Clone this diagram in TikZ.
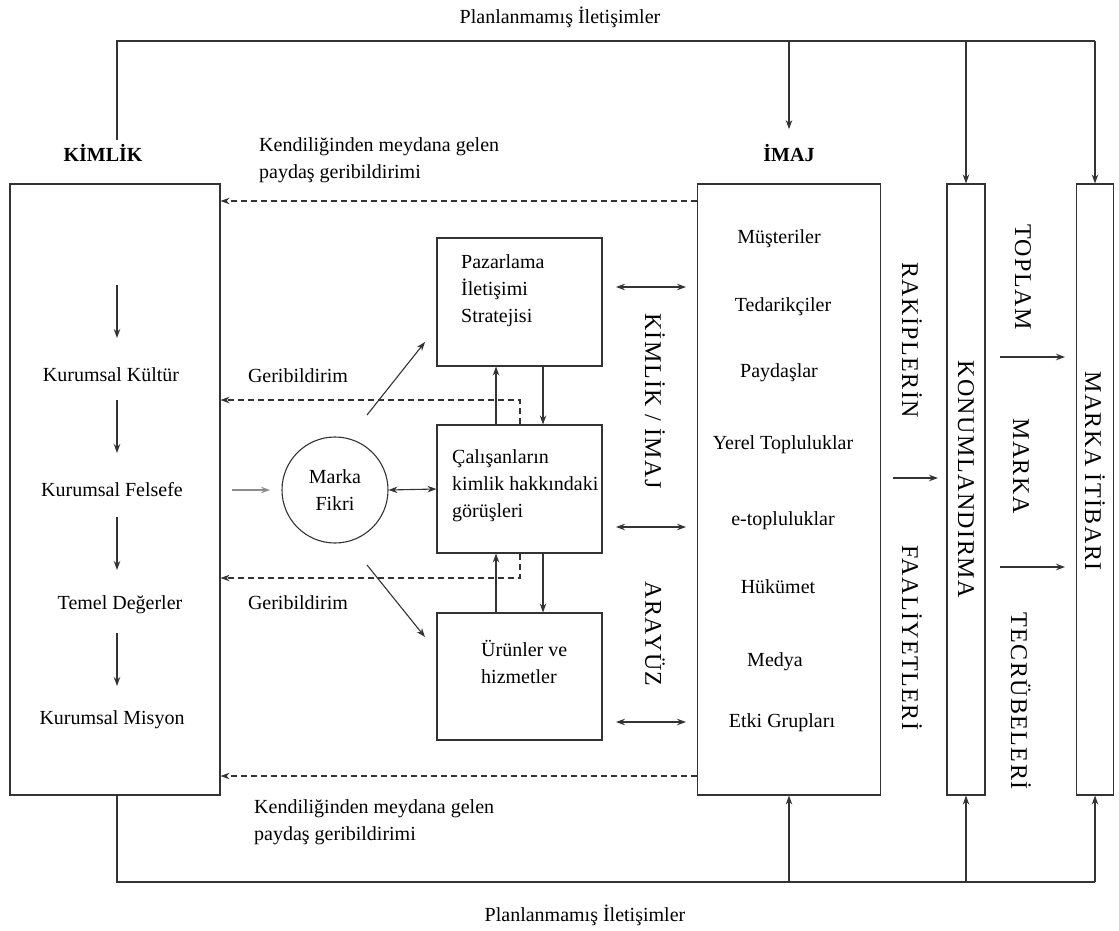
\documentclass[tikz,border=0pt]{standalone}
\usepackage{fontspec}
\setmainfont{Liberation Serif}
\newfontfamily\spacedserif[LetterSpace=6]{Liberation Serif}
\usetikzlibrary{arrows.meta}
\newcommand{\txt}{\fontsize{20}{27}\selectfont}
\newcommand{\vtxt}{\spacedserif\fontsize{24}{26}\selectfont}
\begin{document}
\begin{tikzpicture}[x=1pt,y=-1pt,
  ln/.style={draw=black!80,line width=1.1pt},
  tip/.style={-{Stealth[length=9pt,width=6.5pt]}},
  arr/.style={ln,tip},
  darr/.style={ln,{Stealth[length=9pt,width=6.5pt]}-{Stealth[length=9pt,width=6.5pt]}},
  dsh/.style={ln,tip,dash pattern=on 6pt off 4pt},
  box/.style={ln,fill=white,rectangle,inner sep=0pt},
  lbl/.style={font=\txt,inner sep=1pt},
  blbl/.style={font=\txt\bfseries,inner sep=1pt},
  vlbl/.style={font=\vtxt,rotate=-90,inner sep=1pt},
]
\useasboundingbox (0,0) rectangle (1119,931);

% main boxes
\node[box,minimum width=210pt,minimum height=611pt] (kimlik) at (115,489.5) {};
\node[box,minimum width=183pt,minimum height=611pt] (imaj) at (789,489.5) {};
\node[box,minimum width=38pt,minimum height=611pt] (konum) at (966,489.5) {};
\node[box,minimum width=37pt,minimum height=611pt] (itibar) at (1095,489.5) {};

% inner boxes
\node[box,minimum width=165pt,minimum height=128pt] (paz) at (519.5,302) {};
\node[box,minimum width=165pt,minimum height=128pt] (cal) at (519.5,489) {};
\node[box,minimum width=165pt,minimum height=127pt] (urun) at (519.5,676.5) {};
\node[ln,circle,minimum size=106pt,inner sep=0pt,align=center,font=\txt] (fikir) at (335,490) {Marka\\Fikri};

\node[lbl,anchor=west,align=left] (pazT) at (460,291) {Pazarlama\\İletişimi\\Stratejisi};
\node[lbl,anchor=west,align=left] (calT) at (451,486) {Çalışanların\\kimlik hakkındaki\\görüşleri};
\node[lbl,anchor=west,align=left] (urunT) at (480,661.5) {Ürünler ve\\hizmetler};

% titles and labels
\node[lbl] (planTop) at (560,17) {Planlanmamış İletişimler};
\node[lbl] (planBot) at (585,915) {Planlanmamış İletişimler};
\node[blbl] (kimlikL) at (103,153) {KİMLİK};
\node[blbl] (imajL) at (789,153) {İMAJ};
\node[lbl,anchor=west,align=left] (kendiTop) at (258,160.5) {Kendiliğinden meydana gelen\\paydaş geribildirimi};
\node[lbl,anchor=west,align=left] (kendiBot) at (253,822.5) {Kendiliğinden meydana gelen\\paydaş geribildirimi};
\node[lbl] (geriTop) at (298,376) {Geribildirim};
\node[lbl] (geriBot) at (298,603) {Geribildirim};

% left column
\node[lbl] (kultur) at (111,375) {Kurumsal Kültür};
\node[lbl] (felsefe) at (112,490) {Kurumsal Felsefe};
\node[lbl] (deger) at (120,605) {Temel Değerler};
\node[lbl] (misyon) at (112,720) {Kurumsal Misyon};
\coordinate (k0) at (117,285);
\draw[arr] (k0) -- (117,338);
\draw[arr] (117,400) -- (117,453);
\draw[arr] (117,517) -- (117,570);
\draw[arr] (117,633) -- (117,686);

% stakeholders
\node[lbl] (s1) at (779,239) {Müşteriler};
\node[lbl] (s2) at (783,307) {Tedarikçiler};
\node[lbl] (s3) at (779,373) {Paydaşlar};
\node[lbl] (s4) at (783,445) {Yerel Topluluklar};
\node[lbl] (s5) at (783,521) {e-topluluklar};
\node[lbl] (s6) at (778,587) {Hükümet};
\node[lbl] (s7) at (775,662) {Medya};
\node[lbl] (s8) at (782,723) {Etki Grupları};

% vertical labels
\node[vlbl] (kiL) at (655,401) {KİMLİK / İMAJ};
\node[vlbl] (arL) at (655,634) {ARAYÜZ};
\node[vlbl] (rakL) at (912,340) {RAKİPLERİN};
\node[vlbl] (faaL) at (912,638) {FAALİYETLERİ};
\node[vlbl] (konL) at (966,479) {KONUMLANDIRMA};
\node[vlbl] (topL) at (1023,277) {TOPLAM};
\node[vlbl] (marL) at (1021,466) {MARKA};
\node[vlbl] (tecL) at (1021,701) {TECRÜBELERİ};
\node[vlbl] (itiL) at (1095,471) {MARKA İTİBARI};

% unplanned communications, top
\coordinate (tl) at (117,41);
\coordinate (tr) at (itibar.north |- tl);
\coordinate (kimlikTop) at (117,140);
\draw[ln] (kimlikTop) -- (tl) -- (tr);
\draw[arr] (imaj.north |- tl) -- ([yshift=14pt]imajL.north);
\draw[arr] (konum.north |- tl) -- (konum.north);
\draw[arr] (tr) -- (itibar.north);

% unplanned communications, bottom
\coordinate (bl) at (117,882);
\coordinate (br) at (itibar.south |- bl);
\draw[ln] (kimlik.south -| bl) -- (bl) -- (br);
\draw[arr] (imaj.south |- bl) -- (imaj.south);
\draw[arr] (konum.south |- bl) -- (konum.south);
\draw[arr] (br) -- (itibar.south);

% spontaneous stakeholder feedback
\coordinate (fbTop) at (0,201);
\coordinate (fbBot) at (0,776);
\draw[dsh] (imaj.west |- fbTop) -- (kimlik.east |- fbTop);
\draw[dsh] (imaj.west |- fbBot) -- (kimlik.east |- fbBot);

% internal feedback loops
\coordinate (g1) at (520,400);
\coordinate (g2) at (520,578);
\draw[dsh] ([xshift=0.5pt]cal.north) -- (g1) -- (kimlik.east |- g1);
\draw[dsh] ([xshift=0.5pt]cal.south) -- (g2) -- (kimlik.east |- g2);

% links between inner boxes
\draw[arr] ([xshift=-23.5pt]cal.north) -- ([xshift=-23.5pt]paz.south);
\draw[arr] ([xshift=23.5pt]paz.south) -- ([xshift=23.5pt]cal.north);
\draw[arr] ([xshift=-23.5pt]urun.north) -- ([xshift=-23.5pt]cal.south);
\draw[arr] ([xshift=23.5pt]cal.south) -- ([xshift=23.5pt]urun.north);

% brand idea links
\coordinate (inS) at (232,490);
\coordinate (inE) at (270,490);
\draw[arr,draw=black!45] (inS) -- (inE);
\draw[darr] (fikir.east) -- (cal.west);
\coordinate (d1s) at (367,415);
\coordinate (d1e) at (425,342);
\coordinate (d2s) at (367,565);
\coordinate (d2e) at (425,637);
\draw[arr] (d1s) -- (d1e);
\draw[arr] (d2s) -- (d2e);

% identity / image interface arrows
\foreach \yy in {287,527,722}{
  \draw[darr] (616,\yy) -- (686,\yy);
}

% competitors and brand experience arrows
\coordinate (rs) at (893,478);
\coordinate (re) at (938,478);
\draw[arr] (rs) -- (re);
\draw[arr] (1000,357) -- (1065,357);
\draw[arr] (1000,567) -- (1065,567);
\end{tikzpicture}
\end{document}
